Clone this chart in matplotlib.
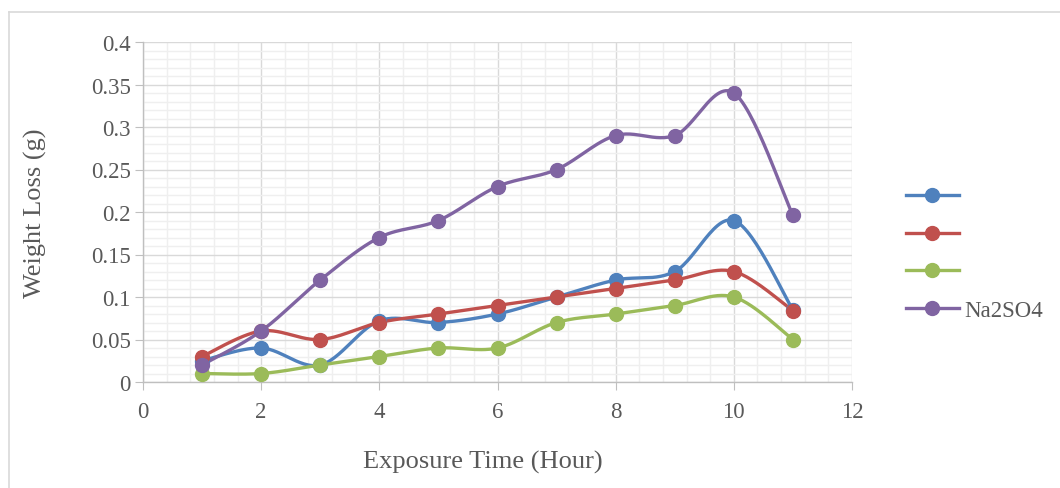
import numpy as np
import matplotlib
matplotlib.use("Agg")
import matplotlib.pyplot as plt
from matplotlib.ticker import MultipleLocator
from matplotlib.lines import Line2D

# --- data ---
hours = [1, 2, 3, 4, 5, 6, 7, 8, 9, 10, 11]
blue_loss = [0.025, 0.04, 0.02, 0.072, 0.07, 0.08, 0.10, 0.12, 0.13, 0.19, 0.085]
red_loss = [0.03, 0.06, 0.05, 0.07, 0.08, 0.09, 0.10, 0.11, 0.12, 0.13, 0.084]
green_loss = [0.01, 0.01, 0.02, 0.03, 0.04, 0.04, 0.07, 0.08, 0.09, 0.10, 0.05]
na2so4_loss = [0.02, 0.06, 0.12, 0.17, 0.19, 0.23, 0.25, 0.29, 0.29, 0.34, 0.196]

series_labels = ["", "", "", "Na2SO4"]
series_colors = ["#4F81BD", "#C0504D", "#9BBB59", "#8064A2"]

plt.rcParams["font.family"] = ["Liberation Serif", "DejaVu Serif"]
text_gray = "#595959"


def smooth(x, y, n=30):
    # Excel-style smoothed line: Catmull-Rom segments as cubic Bezier curves
    x = np.asarray(x, float)
    y = np.asarray(y, float)
    pts = np.column_stack([x, y])
    ext = np.vstack([pts[0], pts, pts[-1]])
    t = np.linspace(0, 1, n)[:, None]
    out = []
    for i in range(len(pts) - 1):
        p0, p1, p2, p3 = ext[i], ext[i + 1], ext[i + 2], ext[i + 3]
        c1 = p1 + (p2 - p0) / 6
        c2 = p2 - (p3 - p1) / 6
        seg = ((1 - t) ** 3) * p1 + 3 * ((1 - t) ** 2) * t * c1 + 3 * (1 - t) * t ** 2 * c2 + t ** 3 * p2
        out.append(seg if i == 0 else seg[1:])
    out = np.vstack(out)
    return out[:, 0], out[:, 1]


fig = plt.figure(figsize=(10.6, 4.89), dpi=100)
ax = fig.add_axes([143 / 1060, 1 - 383 / 489, (852 - 143) / 1060, (383 - 43) / 489])

all_series = [blue_loss, red_loss, green_loss, na2so4_loss]
handles = []
for vals, col, lab in zip(all_series, series_colors, series_labels):
    sx, sy = smooth(hours, vals)
    ax.plot(sx, sy, color=col, lw=2.4, solid_capstyle="round", zorder=3)
    ax.plot(hours, vals, "o", color=col, ms=10, zorder=4)
    handles.append(Line2D([], [], color=col, lw=2.4, marker="o", ms=10))

ax.set_xlim(0, 12)
ax.set_ylim(0, 0.4)
ax.xaxis.set_major_locator(MultipleLocator(2))
ax.xaxis.set_minor_locator(MultipleLocator(0.4))
ax.yaxis.set_major_locator(MultipleLocator(0.05))
ax.yaxis.set_minor_locator(MultipleLocator(0.01))
ax.set_yticks([0, 0.05, 0.1, 0.15, 0.2, 0.25, 0.3, 0.35, 0.4])
ax.set_yticklabels(["0", "0.05", "0.1", "0.15", "0.2", "0.25", "0.3", "0.35", "0.4"])

ax.grid(which="major", color="#D9D9D9", lw=1.0, zorder=0)
ax.grid(which="minor", color="#EFEFEF", lw=1.0, zorder=0)
ax.set_axisbelow(True)

for s in ["top", "right"]:
    ax.spines[s].set_visible(False)
for s in ["left", "bottom"]:
    ax.spines[s].set_color("#BFBFBF")
    ax.spines[s].set_linewidth(1.0)

ax.tick_params(which="major", direction="out", length=6, color="#BFBFBF",
               labelsize=16.5, labelcolor=text_gray, pad=3)
ax.tick_params(which="minor", length=0)
ax.tick_params(axis="x", pad=8)

fig.text(483 / 1060, 1 - 462 / 489, "Exposure Time (Hour)", ha="center", va="center",
         fontsize=19, color=text_gray)
fig.text(35 / 1060, 1 - 213 / 489, "Weight Loss (g)", ha="center", va="center",
         rotation=90, fontsize=19, color=text_gray)

leg = fig.legend(handles, series_labels, loc="center left",
                 bbox_to_anchor=(906 / 1060, 1 - 255 / 489), frameon=False,
                 fontsize=16.5, handlelength=2.3, handletextpad=0.25,
                 labelspacing=0.72, borderpad=0, borderaxespad=0)
for t in leg.get_texts():
    t.set_color(text_gray)

# light outer border of the chart area
fig.add_artist(Line2D([9 / 1060, 9 / 1060], [0, 1 - 13 / 489], color="#D9D9D9", lw=1.2,
                      transform=fig.transFigure))
fig.add_artist(Line2D([9 / 1060, 1], [1 - 13 / 489, 1 - 13 / 489], color="#D9D9D9", lw=1.2,
                      transform=fig.transFigure))

fig.savefig("out.png", dpi=100)
